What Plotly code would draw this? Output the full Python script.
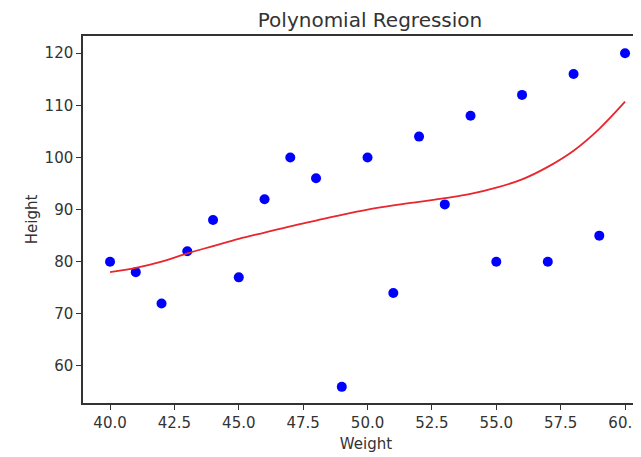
import plotly.graph_objects as go

weight = [40, 41, 42, 43, 44, 45, 46, 47, 48, 49, 50, 51, 52, 53, 54, 55, 56, 57, 58, 59, 60]
height = [80, 78, 72, 82, 88, 77, 92, 100, 96, 56, 100, 74, 104, 91, 108, 80, 112, 80, 116, 85, 120]

# fitted curve
fit_x = [40, 41, 42, 43, 44, 45, 46, 47, 48, 49, 50, 51, 52, 53, 54, 55, 56, 57, 58, 59, 60]
fit_y = [78.0, 78.8, 80.0, 81.6, 83.0, 84.4, 85.6, 86.8, 87.9, 89.0, 90.0, 90.8, 91.5, 92.2,
         93.0, 94.2, 95.8, 98.2, 101.3, 105.5, 110.7]

x_ticks = [40, 42.5, 45, 47.5, 50, 52.5, 55, 57.5, 60]
y_ticks = [60, 70, 80, 90, 100, 110, 120]

font = "DejaVu Sans"

fig = go.Figure()
fig.add_trace(go.Scatter(x=weight, y=height, mode='markers',
                         marker=dict(color='#0000ff', size=10), showlegend=False))
fig.add_trace(go.Scatter(x=fit_x, y=fit_y, mode='lines', line_shape='spline',
                         line=dict(color='#e8262e', width=1.8), showlegend=False))

# page body has an 8px margin, so margins are offset by that
fig.update_layout(
    width=641, height=457,
    margin=dict(l=75, r=0, t=28, b=62, autoexpand=False),
    plot_bgcolor='white', paper_bgcolor='white',
    font=dict(family=font, size=15, color='#333'),
    title=dict(text='Polynomial Regression', x=362 / 641, xanchor='center',
               y=1 - 12 / 457, yanchor='middle', font=dict(size=20, color='#333')),
)
fig.update_xaxes(range=[38.95, 60.93], tickvals=x_ticks,
                 ticktext=['%.1f' % v for v in x_ticks], automargin=False,
                 ticklabeloverflow='allow',
                 showgrid=False, zeroline=False, showline=True, linecolor='#333',
                 linewidth=1.5, mirror=True, ticks='outside', ticklen=5, tickcolor='#333',
                 title=dict(text='Weight', standoff=8, font=dict(size=15)))
fig.update_yaxes(range=[52.9, 123.3], tickvals=y_ticks, automargin=False,
                 showgrid=False, zeroline=False, showline=True, linecolor='#333',
                 linewidth=1.5, ticks='outside', ticklen=5, tickcolor='#333',
                 title=dict(text='Height', standoff=3, font=dict(size=15)))

fig.write_html("out.html")
